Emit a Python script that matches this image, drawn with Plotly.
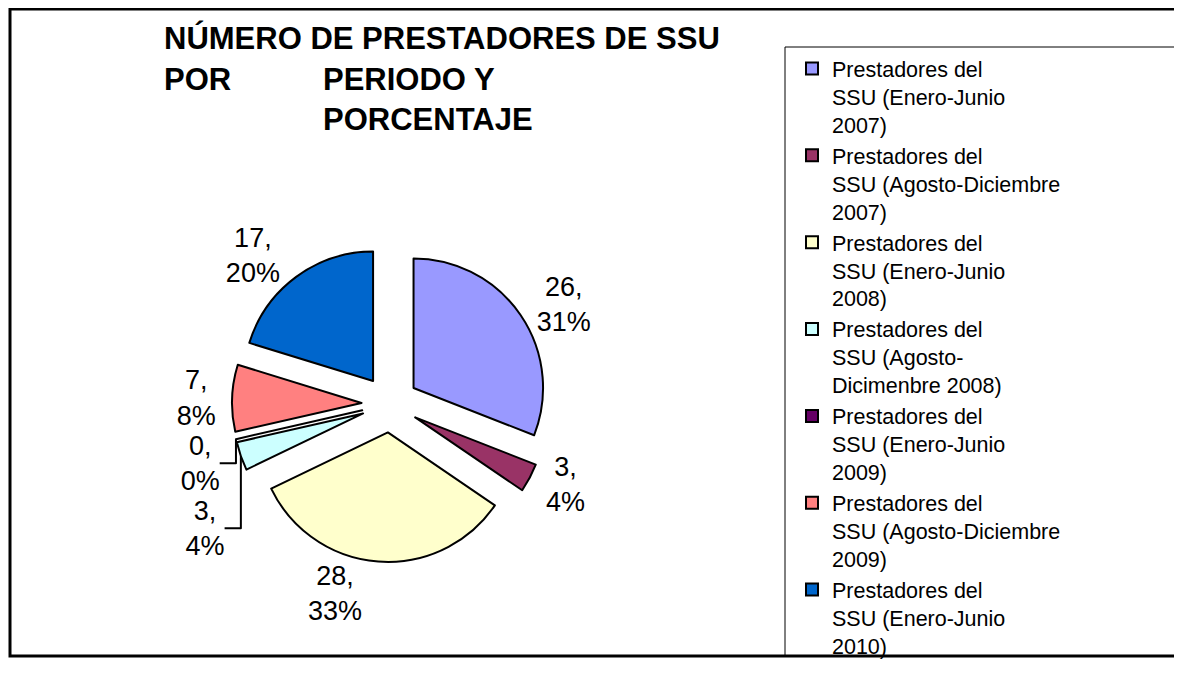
import plotly.graph_objects as go

W, H = 1182, 678
OFF = 8  # the page body keeps its default 8px margin

# data
periodos = [
    "Prestadores del<br>SSU (Enero-Junio<br>2007)",
    "Prestadores del<br>SSU (Agosto-Diciembre<br>2007)",
    "Prestadores del<br>SSU (Enero-Junio<br>2008)",
    "Prestadores del<br>SSU (Agosto-<br>Dicimenbre 2008)",
    "Prestadores del<br>SSU (Enero-Junio<br>2009)",
    "Prestadores del<br>SSU (Agosto-Diciembre<br>2009)",
    "Prestadores del<br>SSU (Enero-Junio<br>2010)",
]
prestadores = [26, 3, 28, 3, 0, 7, 17]
colores = ["#9999FF", "#993366", "#FFFFCC", "#CCFFFF", "#660066", "#FF8080", "#0066CC"]

FONT = "Liberation Sans, Arial, sans-serif"


def px_x(v):
    return (v - OFF) / W


def px_y(v):
    return 1 - (v - OFF) / H


fig = go.Figure()

fig.add_trace(go.Pie(
    labels=periodos,
    values=prestadores,
    sort=False,
    direction="clockwise",
    rotation=0,
    pull=0.22,
    marker=dict(colors=colores, line=dict(color="black", width=2)),
    texttemplate="%{value},<br>%{percent:.0%}",
    textposition="outside",
    textfont=dict(family=FONT, size=27, color="black"),
    domain=dict(x=[px_x(224), px_x(556)], y=[px_y(562), px_y(246)]),
    hoverinfo="label+value+percent",
))

# title, laid out in three lines like the original
titulo = [
    ("NÚMERO DE PRESTADORES DE SSU", 162, 38),
    ("POR", 162, 80),
    ("PERIODO Y", 321, 80),
    ("PORCENTAJE", 321, 119),
]
for texto, x, y in titulo:
    fig.add_annotation(
        text=f"<b>{texto}</b>", x=px_x(x), y=px_y(y), xref="paper", yref="paper",
        xanchor="left", yanchor="middle", showarrow=False,
        font=dict(family=FONT, size=31, color="black"),
    )

# outer frame and legend box
fig.add_shape(type="rect", xref="paper", yref="paper",
              x0=px_x(10), x1=px_x(1200), y0=px_y(656), y1=px_y(9),
              line=dict(color="black", width=3))
fig.add_shape(type="rect", xref="paper", yref="paper",
              x0=px_x(785), x1=px_x(1180), y0=px_y(656), y1=px_y(47),
              line=dict(color="black", width=1))

fig.update_layout(
    width=W, height=H,
    margin=dict(l=0, r=0, t=0, b=0, autoexpand=False),
    paper_bgcolor="white",
    plot_bgcolor="white",
    font=dict(family=FONT, color="black"),
    showlegend=True,
    legend=dict(
        x=px_x(792), y=px_y(48), xanchor="left", yanchor="top",
        font=dict(family=FONT, size=21.5, color="black"),
        valign="top",
        bgcolor="rgba(0,0,0,0)",
        borderwidth=0,
        tracegroupgap=0,
        itemclick=False,
    ),
)

fig.write_html("out.html")
